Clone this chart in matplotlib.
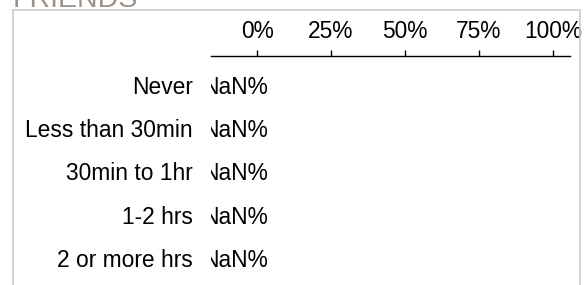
import numpy as np
import matplotlib
matplotlib.use("Agg")
import matplotlib.pyplot as plt
from matplotlib.lines import Line2D

# data: every share is missing, so the bars have no width and labels read NaN%
categories = ["Never", "Less than 30min", "30min to 1hr", "1-2 hrs", "2 or more hrs"]
shares = [np.nan, np.nan, np.nan, np.nan, np.nan]
ticks = [0, 25, 50, 75, 100]
tick_labels = ["0%", "25%", "50%", "75%", "100%"]
title = "FRIENDS"

W, H, DPI = 585, 285, 100
plt.rcParams["font.family"] = ["Liberation Sans", "DejaVu Sans"]

fig = plt.figure(figsize=(W / DPI, H / DPI), dpi=DPI)

def fx(px):
    return px / W

def fy(py):
    return 1 - py / H

# title, mostly cut off at the top
fig.text(fx(13), fy(7), title, fontsize=20.5, color="#9b9189",
         ha="left", va="baseline")

# light frame around the panel
for xs, ys in [((13, 580), (10, 10)), ((13, 13), (10, 300)), ((580, 580), (10, 300))]:
    fig.add_artist(Line2D([fx(x) for x in xs], [fy(y) for y in ys],
                          color="#cccccc", lw=1.2))

ax = fig.add_axes([fx(211), 0, fx(570) - fx(211), fy(56)])
ax.patch.set_visible(False)

pxper = (553 - 257) / 100.0
ax.set_xlim((211 - 257) / pxper, (570 - 257) / pxper)
step = 43.25
ax.set_ylim((285 - 85) / step, (56 - 85) / step)

ypos = np.arange(len(categories))
ax.barh(ypos, shares, height=0.6, color="#4c78a8")

fsize = 16.4
x0 = ax.get_xlim()[0]
for y, v in zip(ypos, shares):
    # missing value: label sits left of the axis start and gets clipped
    lx = v if not np.isnan(v) else x0 - 9 / pxper
    ax.text(lx, y, f"{v:.0f}%" if not np.isnan(v) else "NaN%",
            fontsize=fsize, ha="left", va="center_baseline", clip_on=True)

for s in ["right", "bottom", "left"]:
    ax.spines[s].set_visible(False)
ax.spines["top"].set_linewidth(1.0)

ax.xaxis.tick_top()
ax.set_xticks(ticks)
ax.set_xticklabels(tick_labels)
ax.tick_params(axis="x", direction="out", length=4.3, width=1.0, pad=5,
               labelsize=fsize)
ax.set_yticks(ypos)
ax.set_yticklabels(categories)
ax.tick_params(axis="y", length=0, pad=13, labelsize=fsize)

fig.savefig("out.png", dpi=DPI)
